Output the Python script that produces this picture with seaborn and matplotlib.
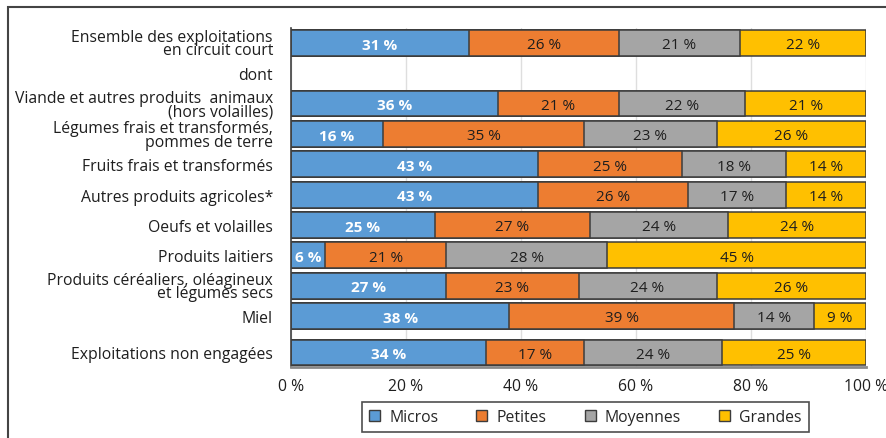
import matplotlib
matplotlib.use("Agg")
import matplotlib.pyplot as plt
from matplotlib.patches import Patch, Rectangle
import numpy as np
import pandas as pd
import seaborn as sns

# Categories (top to bottom); "dont" is a heading row without bars
categories = [
    "Ensemble des exploitations\nen circuit court",
    "Viande et autres produits  animaux\n(hors volailles)",
    "Légumes frais et transformés,\npommes de terre",
    "Fruits frais et transformés",
    "Autres produits agricoles*",
    "Oeufs et volailles",
    "Produits laitiers",
    "Produits céréaliers, oléagineux\net légumes secs",
    "Miel",
    "Exploitations non engagées",
]
heading = "dont"

series = ["Micros", "Petites", "Moyennes", "Grandes"]
micros   = [31, 36, 16, 43, 43, 25, 6, 27, 38, 34]
petites  = [26, 21, 35, 25, 26, 27, 21, 23, 39, 17]
moyennes = [21, 22, 23, 18, 17, 24, 28, 24, 14, 24]
grandes  = [22, 21, 26, 14, 14, 24, 45, 26, 9, 25]

colors = ["#5B9BD5", "#ED7D31", "#A5A5A5", "#FFC000"]
x_ticks = [0, 20, 40, 60, 80, 100]
x_ticklabels = ["0 %", "20 %", "40 %", "60 %", "80 %", "100 %"]

sns.set_theme(style="white")
plt.rcParams["font.family"] = ["Open Sans", "DejaVu Sans"]

# Row layout: heading row sits after the first bar, last bar set slightly apart
pos = np.array([0, 2, 3, 4, 5, 6, 7, 8, 9, 10.2])
heading_pos = 1

values = np.array([micros, petites, moyennes, grandes], dtype=float)
cum = np.cumsum(values, axis=0)

rows = []
for s_i, name in enumerate(series):
    for c_i, cat in enumerate(categories):
        rows.append({"serie": name, "categorie": cat, "pos": pos[c_i],
                     "valeur": values[s_i, c_i], "cumul": cum[s_i, c_i]})
df = pd.DataFrame(rows)

fig = plt.figure(figsize=(8.87, 4.39), dpi=100)
ax = fig.add_axes([291 / 887, 1 - 368 / 439, 575 / 887, 339 / 439])

# Stacked bars: draw cumulative totals from the last series back to the first
for s_i in range(len(series) - 1, -1, -1):
    sub = df[df["serie"] == series[s_i]]
    sns.barplot(data=sub, x="cumul", y="pos", orient="y", native_scale=True,
                color=colors[s_i], saturation=1, width=0.85,
                edgecolor="#3c3c3c", linewidth=1.1, errorbar=None, ax=ax, zorder=2)

# Value labels centred in each segment
for s_i in range(len(series)):
    for c_i in range(len(categories)):
        v = values[s_i, c_i]
        centre = cum[s_i, c_i] - v / 2
        if s_i == 0:
            ax.text(centre, pos[c_i] + 0.06, f"{int(v)} %", ha="center", va="center",
                    color="white", fontweight="bold", fontsize=11, zorder=5)
        else:
            ax.text(centre, pos[c_i] + 0.06, f"{int(v)} %", ha="center", va="center",
                    color="#1e1e1e", fontsize=11, zorder=5)

ax.set_xlim(0, 100)
ax.set_ylim(10.68, -0.49)
ax.set_xticks(x_ticks, x_ticklabels)
ytick_pos = [pos[0], heading_pos] + list(pos[1:])
ytick_lab = [categories[0], heading] + categories[1:]
ax.set_yticks(ytick_pos, ytick_lab)
for lab in ax.get_yticklabels():
    lab.set_linespacing(0.8)
    lab.set_fontsize(11.3)
    lab.set_color("#1e1e1e")
ax.tick_params(axis="y", length=0, pad=13)
ax.tick_params(axis="x", direction="in", length=4, width=1.2, color="#404040",
               pad=8, labelsize=11.3, labelcolor="#1e1e1e")
ax.set_xlabel("")
ax.set_ylabel("")

ax.grid(axis="x", color="#dedede", linewidth=1)
ax.set_axisbelow(True)
for side in ["top", "right"]:
    ax.spines[side].set_visible(False)
ax.spines["left"].set_color("#404040")
ax.spines["left"].set_linewidth(1.2)
ax.spines["bottom"].set_color("#8a8a8a")
ax.spines["bottom"].set_linewidth(2)

handles = [Patch(facecolor=c, edgecolor="#3c3c3c", linewidth=1) for c in colors]
leg = fig.legend(handles, series, loc="center", ncol=4,
                 bbox_to_anchor=(585.5 / 887, 1 - 418 / 439),
                 frameon=True, fancybox=False, fontsize=11.3,
                 handlelength=0.7, handleheight=0.7, handletextpad=0.6,
                 columnspacing=2.4, borderpad=0.45, borderaxespad=0)
leg.get_frame().set_edgecolor("#222222")
leg.get_frame().set_linewidth(1.2)

# Outer frame around the graphic
fig.patches.append(Rectangle((8.5 / 887, -0.2), 1.5, 1 - 8 / 439 + 0.2,
                             transform=fig.transFigure, fill=False,
                             edgecolor="#444444", linewidth=1.5))

fig.savefig("out.png", dpi=100)
